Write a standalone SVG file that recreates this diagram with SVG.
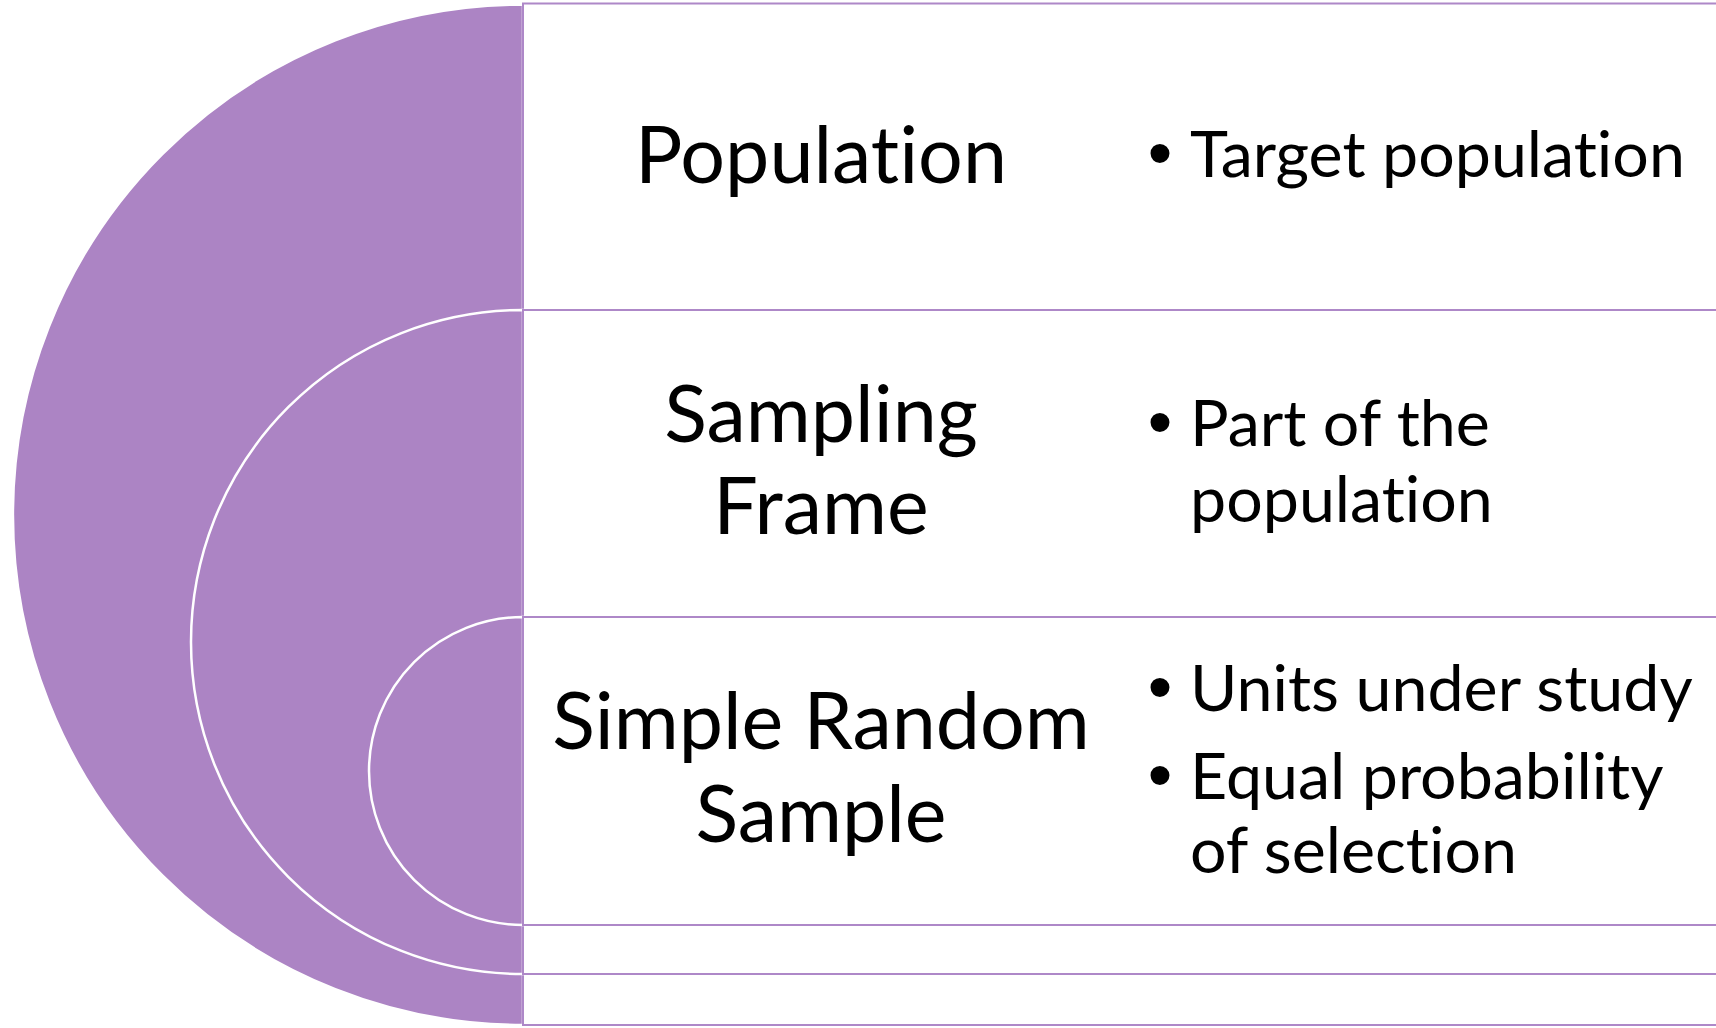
<svg xmlns="http://www.w3.org/2000/svg" width="1716" height="1028" viewBox="0 0 1716 1028">
<style>
.disc{fill:#AC84C4;stroke:#FFFFFF;stroke-width:2.5}
.box{fill:#FFFFFF;stroke:#AE88C8;stroke-width:2}
.title{font-family:Lato,"Liberation Sans",sans-serif;font-size:79px;fill:#000000;text-anchor:middle;font-variant-ligatures:none}
.item{font-family:Lato,"Liberation Sans",sans-serif;font-size:64.5px;fill:#000000;font-variant-ligatures:none}
.dot{font-family:"Liberation Sans",sans-serif;font-size:70px;fill:#000000;text-anchor:middle}
</style>
<rect width="1716" height="1028" fill="#FFFFFF"/>
<g id="connectors"></g>
<g id="node-population">
<path class="disc" d="M523,4.5 A510.25,510.25 0 0 0 523,1025 Z"/>
<rect class="box" x="523" y="3.5" width="1220" height="1021.5"/>
<text class="title" x="821" y="183">Population</text>
<text class="dot" x="1160" y="177">•</text>
<text class="item" x="1190" y="177">Target population</text>
</g>
<g id="node-sampling-frame">
<path class="disc" d="M523,310 A332,332 0 0 0 523,974 Z"/>
<rect class="box" x="523" y="310" width="1220" height="664"/>
<text class="title" x="821" y="442">Sampling</text>
<text class="title" x="821" y="534">Frame</text>
<text class="dot" x="1160" y="446">•</text>
<text class="item" x="1190" y="446">Part of the</text>
<text class="item" x="1190" y="522">population</text>
</g>
<g id="node-simple-random-sample">
<path class="disc" d="M523,617 A154,154 0 0 0 523,925 Z"/>
<rect class="box" x="523" y="617" width="1220" height="308"/>
<text class="title" x="821" y="749">Simple Random</text>
<text class="title" x="821" y="842">Sample</text>
<text class="dot" x="1160" y="711">•</text>
<text class="item" x="1190" y="711">Units under study</text>
<text class="dot" x="1160" y="799">•</text>
<text class="item" x="1190" y="799">Equal probability</text>
<text class="item" x="1190" y="873">of selection</text>
</g>
</svg>
